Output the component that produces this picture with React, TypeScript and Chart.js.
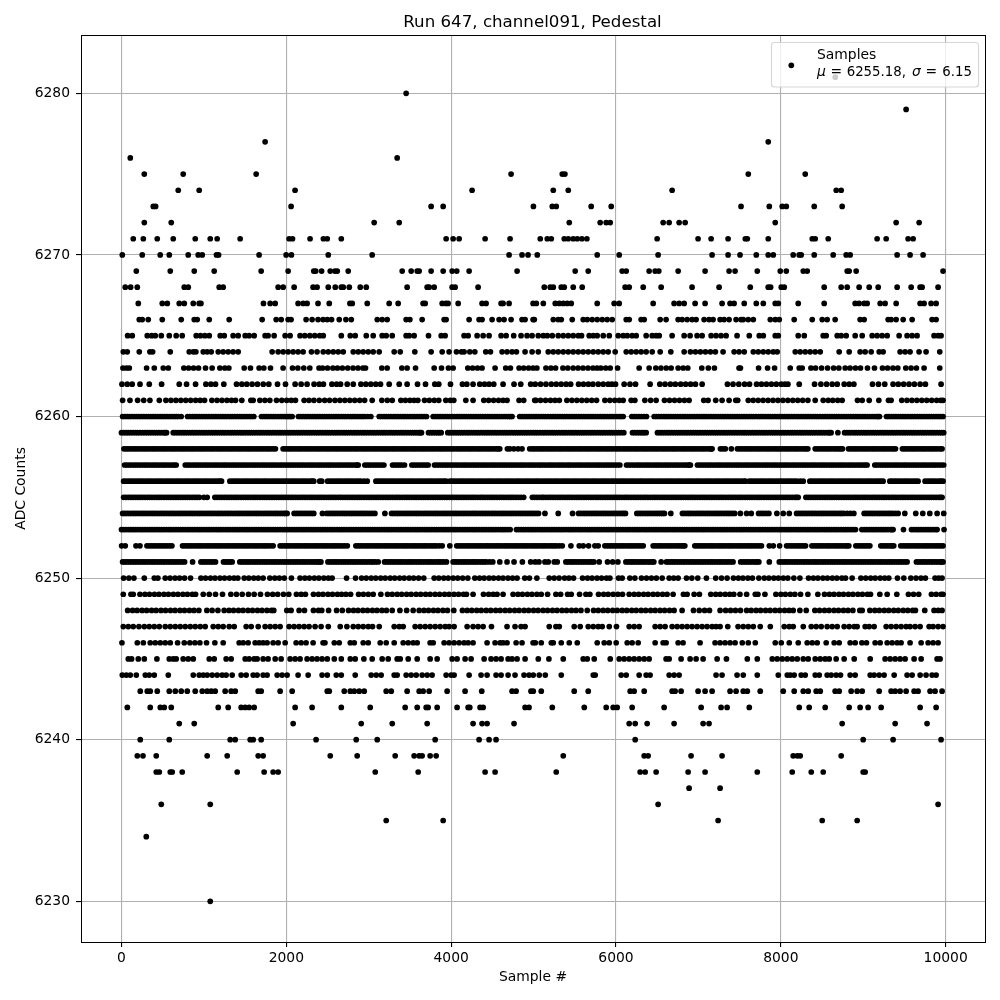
import React, { useEffect, useRef } from "react";
import { Chart, registerables } from "chart.js";

Chart.register(...registerables);

const titleText = "Run 647, channel091, Pedestal";
const xLabel = "Sample #";
const yLabel = "ADC Counts";
const xTicks = [0, 2000, 4000, 6000, 8000, 10000];
const yTicks = [6230, 6240, 6250, 6260, 6270, 6280];

const s6281 = [8660];
const s6280 = [3454];
const s6279 = [9520];
const s6277 = [1743, 7847];
const s6276 = [107, 3345];
const s6275 = [277, 749, 1634, 4727, 5348, 5380, 7605, 8296];
const s6274 = [689, 943, 2106, 4254, 5239, 5421, 6681, 8672, 8732];
const s6273 = [386, 414, 2058, 3757, 3903, 4998, 5227, 5275, 5699, 5942, 7517, 7860, 8017, 8066, 8405, 8744];
const s6272 = [277, 604, 3066, 3370, 5433, 5808, 5881, 5930, 6572, 6645, 6766, 6839, 7932, 9399, 9678];
const s6271 = [143, 265, 434, 628, 895, 1077, 1161, 1440, 2034, 2075, 2288, 2450, 2497, 2667, 3939, 4024, 4097, 4412, 4715, 5081, 5166, 5215, 5372, 5421, 5481, 5530, 5586, 5647, 6499, 6996, 7154, 7360, 7569, 7593, 7847, 8381, 8417, 8575, 9168, 9278, 9544, 9605];
const s6270 = [10, 252, 470, 580, 810, 931, 980, 1153, 1178, 1670, 1998, 2062, 2509, 3042, 4703, 4860, 4933, 5045, 5772, 6039, 6511, 7166, 7360, 7505, 7702, 7847, 7908, 8150, 8223, 8247, 8405, 8635, 8793, 8841, 9411, 9568, 9726];
const s6269 = [180, 592, 883, 1125, 1695, 2022, 2333, 2357, 2428, 2533, 2590, 2618, 2751, 3406, 3515, 3588, 3612, 3757, 3903, 4012, 4068, 4218, 4800, 5505, 5663, 6075, 6124, 6402, 6475, 6519, 6754, 7081, 7372, 7445, 7714, 7993, 8066, 8272, 8320, 8805, 8829, 8914, 9968];
const s6268 = [46, 111, 192, 762, 810, 1186, 1234, 1901, 1962, 2095, 2325, 2373, 2509, 2594, 2667, 2691, 2764, 2897, 2970, 3466, 3709, 3733, 3794, 4012, 4048, 4327, 5130, 5202, 5239, 5336, 5372, 5481, 5590, 6111, 6160, 6330, 6548, 6923, 7251, 7629, 7847, 7876, 8005, 8041, 8526, 8732, 8805, 8950, 9072, 9181, 9411, 9581, 9690, 9714, 9908];
const s6267 = [204, 495, 556, 701, 762, 871, 943, 964, 1723, 1804, 1865, 2143, 2204, 2252, 2385, 2521, 2772, 2800, 2982, 3248, 3357, 3660, 3685, 3891, 3935, 3963, 4085, 4375, 4424, 4606, 4630, 4703, 4994, 5033, 5118, 5263, 5312, 5360, 5408, 5457, 5772, 5978, 6039, 6451, 6705, 6766, 6827, 6960, 7081, 7287, 7384, 7433, 7556, 7702, 7787, 7932, 7969, 8211, 8526, 8902, 8950, 9011, 9047, 9205, 9265, 9399, 9690, 9738, 9823, 9884];
const s6266 = [216, 252, 325, 495, 725, 883, 919, 1065, 1307, 1707, 1877, 1938, 2022, 2058, 2240, 2313, 2385, 2446, 2497, 2549, 2642, 2723, 2788, 3103, 3163, 3224, 3454, 3499, 3648, 3915, 3939, 4218, 4339, 4375, 4497, 4582, 4642, 4727, 4860, 4897, 4994, 5009, 5239, 5299, 5336, 5469, 5602, 5651, 5711, 5772, 5833, 5893, 5954, 6124, 6160, 6305, 6342, 6536, 6608, 6754, 6802, 6863, 6923, 6972, 7069, 7129, 7178, 7263, 7311, 7372, 7457, 7517, 7544, 7605, 7666, 7872, 7932, 7981, 8162, 8381, 8502, 8562, 8659, 8962, 9011, 9302, 9338, 9399, 9484, 9593, 9835, 9884];
const s6265 = [75, 131, 313, 366, 410, 483, 580, 664, 737, 907, 959, 1012, 1065, 1198, 1247, 1355, 1416, 1501, 1549, 1610, 1743, 1779, 1852, 1986, 2046, 2167, 2224, 2285, 2345, 2405, 2448, 2667, 2776, 2836, 2970, 3054, 3163, 3212, 3285, 3454, 3491, 3551, 3725, 3879, 3927, 4157, 4206, 4315, 4388, 4460, 4606, 4667, 4759, 4848, 4921, 4982, 5057, 5118, 5166, 5227, 5299, 5360, 5421, 5481, 5542, 5582, 5675, 5724, 5772, 5845, 5918, 6027, 6087, 6136, 6196, 6245, 6366, 6439, 6487, 6524, 6681, 6827, 6899, 6984, 7045, 7154, 7214, 7275, 7336, 7469, 7617, 7738, 7787, 7932, 7969, 8211, 8284, 8514, 8550, 8684, 8732, 8793, 8902, 8987, 9108, 9168, 9229, 9290, 9435, 9532, 9593, 9653, 9859, 9908, 9944];
const s6264 = [22, 70, 216, 345, 378, 592, 822, 871, 903, 992, 1040, 1089, 1174, 1234, 1295, 1355, 1416, 1828, 1901, 1962, 2022, 2083, 2143, 2204, 2305, 2373, 2448, 2509, 2570, 2630, 2691, 2812, 2873, 2933, 2994, 3054, 3127, 3309, 3382, 3559, 3757, 3891, 3975, 4064, 4125, 4157, 4226, 4287, 4420, 4477, 4618, 4678, 4739, 4792, 4897, 4982, 5057, 5178, 5239, 5299, 5360, 5421, 5481, 5542, 5602, 5663, 5724, 5784, 5845, 5905, 5990, 6124, 6184, 6245, 6305, 6366, 6439, 6536, 6665, 6827, 6903, 6964, 7024, 7085, 7146, 7206, 7299, 7433, 7493, 7556, 7666, 7726, 7787, 7847, 7908, 7956, 8175, 8235, 8296, 8356, 8417, 8478, 8708, 8829, 8962, 9023, 9096, 9193, 9241, 9447, 9508, 9568, 9677, 9762, 9928];
const s6263 = [18, 60, 95, 305, 398, 507, 568, 757, 815, 875, 935, 1020, 1100, 1194, 1254, 1303, 1489, 1565, 1670, 1727, 1808, 1961, 2075, 2140, 2212, 2285, 2397, 2440, 2500, 2565, 2620, 2680, 2745, 2810, 2870, 2930, 2961, 3159, 3224, 3402, 3466, 3568, 3794, 3883, 3967, 4024, 4202, 4260, 4320, 4375, 4533, 4662, 4719, 4824, 4880, 4940, 4994, 5040, 5150, 5210, 5267, 5356, 5415, 5480, 5540, 5600, 5660, 5720, 5770, 5815, 5875, 5930, 6019, 6281, 6402, 6483, 6545, 6610, 6669, 6754, 6815, 6871, 7041, 7120, 7194, 7493, 7510, 7730, 7839, 7924, 8114, 8223, 8259, 8365, 8421, 8494, 8567, 8640, 8704, 8781, 8840, 8905, 8966, 9051, 9136, 9233, 9295, 9360, 9419, 9516, 9580, 9645, 9738, 9928];
const s6262 = [6, 70, 130, 225, 337, 487, 701, 790, 899, 1024, 1085, 1141, 1242, 1396, 1460, 1520, 1585, 1650, 1720, 1788, 1893, 1990, 2107, 2180, 2252, 2337, 2400, 2450, 2553, 2610, 2658, 2739, 2812, 2905, 2965, 3025, 3085, 3143, 3248, 3370, 3466, 3592, 3689, 3802, 3850, 3992, 4137, 4190, 4266, 4347, 4405, 4460, 4517, 4630, 4763, 4844, 4965, 5020, 5085, 5150, 5215, 5275, 5335, 5395, 5450, 5546, 5605, 5665, 5720, 5785, 5845, 5905, 5950, 5994, 6099, 6170, 6237, 6414, 6532, 6595, 6660, 6720, 6785, 6845, 6905, 6964, 7045, 7352, 7420, 7490, 7560, 7620, 7706, 7765, 7825, 7885, 7945, 8005, 8050, 8086, 8223, 8409, 8486, 8555, 8623, 8684, 8769, 8830, 8886, 9112, 9185, 9261, 9362, 9425, 9490, 9555, 9620, 9690, 9754, 9944];
const s6261 = [14, 103, 196, 270, 345, 459, 539, 600, 660, 720, 780, 840, 900, 955, 1008, 1097, 1160, 1220, 1280, 1335, 1384, 1460, 1570, 1598, 1679, 1740, 1800, 1881, 1945, 2005, 2060, 2111, 2216, 2275, 2335, 2400, 2465, 2525, 2590, 2650, 2710, 2770, 2830, 2890, 2950, 3042, 3159, 3225, 3285, 3390, 3445, 3500, 3550, 3596, 3677, 3735, 3795, 3850, 3935, 3990, 4032, 4178, 4266, 4396, 4455, 4515, 4575, 4630, 4678, 4824, 4880, 5014, 5029, 5085, 5145, 5205, 5260, 5312, 5404, 5465, 5525, 5585, 5645, 5705, 5764, 5865, 5925, 5985, 6040, 6087, 6184, 6229, 6350, 6420, 6487, 6588, 6650, 6710, 6770, 6830, 6887, 7065, 7117, 7210, 7287, 7372, 7453, 7477, 7605, 7665, 7725, 7785, 7845, 7905, 7965, 8025, 8085, 8145, 8205, 8265, 8328, 8417, 8514, 8575, 8630, 8690, 8744, 8930, 8987, 9072, 9189, 9306, 9338, 9467, 9530, 9590, 9650, 9710, 9770, 9830, 9890, 9940, 9968];
const s6260 = [14, 70, 125, 185, 240, 300, 355, 410, 470, 525, 585, 640, 690, 725, 802, 860, 915, 975, 1030, 1090, 1145, 1205, 1260, 1320, 1375, 1435, 1490, 1550, 1606, 1699, 1755, 1815, 1870, 1930, 1985, 2030, 2071, 2147, 2205, 2260, 2320, 2375, 2435, 2490, 2550, 2605, 2665, 2720, 2780, 2835, 2895, 2950, 3026, 3127, 3185, 3240, 3300, 3355, 3415, 3470, 3530, 3585, 3645, 3701, 3782, 3840, 3895, 3955, 4010, 4070, 4125, 4185, 4240, 4300, 4355, 4415, 4470, 4530, 4585, 4645, 4700, 4739, 4832, 4890, 4945, 5005, 5060, 5120, 5175, 5235, 5290, 5350, 5405, 5465, 5520, 5580, 5635, 5695, 5750, 5810, 5865, 5925, 5980, 6040, 6087, 6192, 6250, 6310, 6370, 6463, 6520, 6580, 6635, 6695, 6750, 6810, 6865, 6925, 6980, 7040, 7095, 7155, 7210, 7270, 7325, 7385, 7440, 7500, 7555, 7615, 7670, 7730, 7785, 7845, 7900, 7960, 8015, 8075, 8130, 8190, 8245, 8305, 8360, 8420, 8475, 8535, 8590, 8650, 8705, 8765, 8820, 8880, 8935, 8995, 9050, 9110, 9165, 9197, 9282, 9340, 9395, 9455, 9510, 9570, 9625, 9685, 9740, 9800, 9855, 9915, 9968];
const e6260 = [42, 97, 155, 212, 270, 327, 382, 440, 497, 555, 612, 665, 830, 887, 945, 1002, 1060, 1117, 1175, 1232, 1290, 1347, 1405, 1462, 1520, 1578, 1727, 1785, 1842, 1900, 1957, 2008, 2051, 2176, 2232, 2290, 2347, 2405, 2462, 2520, 2577, 2635, 2692, 2750, 2807, 2865, 2922, 2988, 3156, 3212, 3270, 3327, 3385, 3442, 3500, 3557, 3615, 3673, 3811, 3867, 3925, 3982, 4040, 4097, 4155, 4212, 4270, 4327, 4385, 4442, 4500, 4557, 4615, 4672, 4720, 4861, 4917, 4975, 5032, 5090, 5147, 5205, 5262, 5320, 5377, 5435, 5492, 5550, 5607, 5665, 5722, 5780, 5837, 5895, 5952, 6010, 6063, 6221, 6280, 6340, 6491, 6550, 6607, 6665, 6722, 6780, 6837, 6895, 6952, 7010, 7067, 7125, 7182, 7240, 7297, 7355, 7412, 7470, 7527, 7585, 7642, 7700, 7757, 7815, 7872, 7930, 7987, 8045, 8102, 8160, 8217, 8275, 8332, 8390, 8447, 8505, 8562, 8620, 8677, 8735, 8792, 8850, 8907, 8965, 9022, 9080, 9137, 9181, 9311, 9367, 9425, 9482, 9540, 9597, 9655, 9712, 9770, 9827, 9885, 9941];
const s6259 = [0, 55, 110, 170, 225, 285, 340, 400, 455, 515, 547, 628, 685, 745, 800, 860, 915, 975, 1030, 1090, 1145, 1205, 1260, 1320, 1375, 1435, 1490, 1550, 1605, 1665, 1720, 1780, 1835, 1895, 1950, 2010, 2065, 2125, 2180, 2240, 2295, 2355, 2410, 2470, 2525, 2585, 2640, 2700, 2755, 2815, 2870, 2930, 2985, 3045, 3100, 3160, 3215, 3275, 3330, 3390, 3445, 3505, 3560, 3610, 3640, 3725, 3780, 3835, 3879, 3959, 4015, 4075, 4130, 4190, 4245, 4305, 4360, 4420, 4475, 4535, 4590, 4650, 4705, 4765, 4820, 4880, 4935, 4995, 5050, 5110, 5165, 5225, 5280, 5340, 5395, 5455, 5510, 5570, 5625, 5685, 5740, 5800, 5855, 5915, 5970, 6030, 6095, 6200, 6260, 6315, 6366, 6503, 6560, 6620, 6675, 6735, 6790, 6850, 6905, 6965, 7020, 7080, 7135, 7195, 7250, 7310, 7365, 7425, 7480, 7540, 7595, 7655, 7710, 7770, 7825, 7885, 7940, 8000, 8055, 8115, 8170, 8230, 8285, 8345, 8400, 8460, 8515, 8575, 8610, 8692, 8773, 8830, 8890, 8945, 9005, 9060, 9120, 9175, 9235, 9290, 9350, 9405, 9465, 9520, 9580, 9635, 9695, 9750, 9810, 9865, 9925, 9976];
const e6259 = [27, 82, 140, 197, 255, 312, 370, 427, 485, 531, 656, 715, 772, 830, 887, 945, 1002, 1060, 1117, 1175, 1232, 1290, 1347, 1405, 1462, 1520, 1577, 1635, 1692, 1750, 1807, 1865, 1922, 1980, 2037, 2095, 2152, 2210, 2267, 2325, 2382, 2440, 2497, 2555, 2612, 2670, 2727, 2785, 2842, 2900, 2957, 3015, 3072, 3130, 3187, 3245, 3302, 3360, 3417, 3475, 3532, 3585, 3625, 3752, 3807, 3857, 3987, 4045, 4102, 4160, 4217, 4275, 4332, 4390, 4447, 4505, 4562, 4620, 4677, 4735, 4792, 4850, 4907, 4965, 5022, 5080, 5137, 5195, 5252, 5310, 5367, 5425, 5482, 5540, 5597, 5655, 5712, 5770, 5827, 5885, 5942, 6000, 6062, 6230, 6287, 6340, 6531, 6590, 6647, 6705, 6762, 6820, 6877, 6935, 6992, 7050, 7107, 7165, 7222, 7280, 7337, 7395, 7452, 7510, 7567, 7625, 7682, 7740, 7797, 7855, 7912, 7970, 8027, 8085, 8142, 8200, 8257, 8315, 8372, 8430, 8487, 8545, 8592, 8801, 8860, 8917, 8975, 9032, 9090, 9147, 9205, 9262, 9320, 9377, 9435, 9492, 9550, 9607, 9665, 9722, 9780, 9837, 9895, 9950];
const s6258 = [30, 85, 145, 200, 260, 315, 375, 430, 490, 545, 605, 660, 720, 775, 835, 890, 950, 1005, 1065, 1120, 1180, 1235, 1295, 1350, 1410, 1465, 1525, 1580, 1640, 1695, 1755, 1810, 1868, 1961, 2020, 2075, 2135, 2190, 2250, 2305, 2365, 2420, 2480, 2535, 2595, 2650, 2710, 2765, 2825, 2880, 2940, 2995, 3055, 3110, 3170, 3225, 3285, 3340, 3400, 3455, 3515, 3570, 3630, 3685, 3745, 3800, 3860, 3915, 3975, 4030, 4090, 4145, 4205, 4260, 4320, 4375, 4435, 4490, 4550, 4590, 4682, 4760, 4860, 4953, 5010, 5070, 5125, 5185, 5240, 5300, 5355, 5415, 5470, 5530, 5585, 5645, 5700, 5760, 5815, 5875, 5930, 5990, 6045, 6105, 6160, 6220, 6275, 6335, 6390, 6450, 6505, 6565, 6620, 6680, 6735, 6795, 6850, 6910, 6965, 7025, 7080, 7140, 7166, 7267, 7327, 7400, 7473, 7530, 7590, 7645, 7705, 7760, 7820, 7875, 7935, 7990, 8050, 8105, 8165, 8220, 8280, 8328, 8417, 8475, 8535, 8590, 8650, 8705, 8748, 8821, 8880, 8935, 8995, 9050, 9110, 9165, 9225, 9280, 9340, 9391, 9475, 9530, 9590, 9645, 9705, 9760, 9820, 9875, 9935, 9956];
const e6258 = [57, 115, 172, 230, 287, 345, 402, 460, 517, 575, 632, 690, 747, 805, 862, 920, 977, 1035, 1092, 1150, 1207, 1265, 1322, 1380, 1437, 1495, 1552, 1610, 1667, 1725, 1782, 1840, 1990, 2047, 2105, 2162, 2220, 2277, 2335, 2392, 2450, 2507, 2565, 2622, 2680, 2737, 2795, 2852, 2910, 2967, 3025, 3082, 3140, 3197, 3255, 3312, 3370, 3427, 3485, 3542, 3600, 3657, 3715, 3772, 3830, 3887, 3945, 4002, 4060, 4117, 4175, 4232, 4290, 4347, 4405, 4462, 4520, 4570, 4712, 4812, 4982, 5040, 5097, 5155, 5212, 5270, 5327, 5385, 5442, 5500, 5557, 5615, 5672, 5730, 5787, 5845, 5902, 5960, 6017, 6075, 6132, 6190, 6247, 6305, 6362, 6420, 6477, 6535, 6592, 6650, 6707, 6765, 6822, 6880, 6937, 6995, 7052, 7110, 7153, 7297, 7501, 7560, 7617, 7675, 7732, 7790, 7847, 7905, 7962, 8020, 8077, 8135, 8192, 8250, 8304, 8445, 8505, 8562, 8620, 8677, 8727, 8850, 8907, 8965, 9022, 9080, 9137, 9195, 9252, 9310, 9365, 9502, 9560, 9617, 9675, 9732, 9790, 9847, 9905];
const s6257 = [38, 95, 155, 210, 270, 325, 385, 440, 500, 555, 615, 664, 774, 830, 890, 945, 1005, 1060, 1120, 1175, 1235, 1290, 1350, 1405, 1465, 1520, 1580, 1635, 1695, 1750, 1810, 1865, 1925, 1980, 2040, 2095, 2155, 2210, 2270, 2325, 2385, 2440, 2500, 2555, 2615, 2670, 2730, 2785, 2845, 2873, 2953, 3010, 3070, 3125, 3184, 3289, 3345, 3400, 3434, 3523, 3580, 3640, 3695, 3721, 3798, 3855, 3915, 3970, 4030, 4085, 4145, 4200, 4260, 4315, 4375, 4430, 4490, 4545, 4605, 4660, 4720, 4775, 4835, 4890, 4950, 5005, 5065, 5120, 5180, 5235, 5295, 5350, 5410, 5465, 5525, 5580, 5640, 5695, 5755, 5810, 5870, 5925, 5985, 6047, 6128, 6185, 6245, 6300, 6360, 6415, 6475, 6530, 6590, 6645, 6705, 6760, 6820, 6875, 6903, 6988, 7045, 7105, 7160, 7220, 7275, 7335, 7390, 7450, 7505, 7565, 7620, 7680, 7735, 7795, 7850, 7910, 7965, 8025, 8080, 8140, 8195, 8255, 8310, 8370, 8425, 8485, 8540, 8600, 8655, 8715, 8770, 8830, 8885, 8945, 9000, 9047, 9140, 9195, 9255, 9310, 9370, 9425, 9485, 9540, 9600, 9655, 9715, 9770, 9830, 9885, 9945, 9976];
const e6257 = [66, 125, 182, 240, 297, 355, 412, 470, 527, 585, 640, 802, 860, 917, 975, 1032, 1090, 1147, 1205, 1262, 1320, 1377, 1435, 1492, 1550, 1607, 1665, 1722, 1780, 1837, 1895, 1952, 2010, 2067, 2125, 2182, 2240, 2297, 2355, 2412, 2470, 2527, 2585, 2642, 2700, 2757, 2815, 2860, 2981, 3040, 3097, 3155, 3317, 3372, 3551, 3610, 3667, 3826, 3885, 3942, 4000, 4057, 4115, 4172, 4230, 4287, 4345, 4402, 4460, 4517, 4575, 4632, 4690, 4747, 4805, 4862, 4920, 4977, 5035, 5092, 5150, 5207, 5265, 5322, 5380, 5437, 5495, 5552, 5610, 5667, 5725, 5782, 5840, 5897, 5955, 6016, 6156, 6215, 6272, 6330, 6387, 6445, 6502, 6560, 6617, 6675, 6732, 6790, 6847, 6889, 7016, 7075, 7132, 7190, 7247, 7305, 7362, 7420, 7477, 7535, 7592, 7650, 7707, 7765, 7822, 7880, 7937, 7995, 8052, 8110, 8167, 8225, 8282, 8340, 8397, 8455, 8512, 8570, 8627, 8685, 8742, 8800, 8857, 8915, 8972, 9025, 9167, 9225, 9282, 9340, 9397, 9455, 9512, 9570, 9627, 9685, 9742, 9800, 9857, 9915];
const s6256 = [26, 85, 140, 200, 255, 315, 370, 430, 485, 545, 600, 660, 715, 775, 830, 890, 945, 1005, 1060, 1120, 1175, 1214, 1315, 1375, 1430, 1490, 1545, 1605, 1660, 1720, 1775, 1835, 1890, 1950, 2005, 2065, 2120, 2180, 2235, 2295, 2333, 2405, 2430, 2501, 2560, 2620, 2675, 2735, 2790, 2850, 2905, 2982, 3087, 3145, 3200, 3260, 3315, 3375, 3430, 3490, 3545, 3605, 3660, 3720, 3775, 3835, 3890, 3939, 3985, 4040, 4100, 4155, 4215, 4270, 4330, 4385, 4445, 4500, 4560, 4615, 4675, 4730, 4790, 4845, 4905, 4960, 5020, 5075, 5135, 5190, 5250, 5305, 5365, 5420, 5480, 5535, 5595, 5650, 5710, 5765, 5825, 5880, 5940, 5995, 6055, 6110, 6170, 6225, 6285, 6340, 6400, 6455, 6515, 6570, 6630, 6685, 6745, 6800, 6860, 6915, 6975, 7030, 7090, 7145, 7205, 7260, 7320, 7375, 7435, 7490, 7550, 7570, 7617, 7675, 7735, 7790, 7850, 7905, 7965, 8020, 8080, 8135, 8195, 8272, 8352, 8410, 8470, 8525, 8585, 8640, 8700, 8755, 8815, 8870, 8930, 8985, 9045, 9100, 9160, 9215, 9241, 9322, 9380, 9435, 9495, 9550, 9610, 9665, 9750, 9810, 9865, 9925, 9968];
const e6256 = [55, 112, 170, 227, 285, 342, 400, 457, 515, 572, 630, 687, 745, 802, 860, 917, 975, 1032, 1090, 1147, 1195, 1345, 1402, 1460, 1517, 1575, 1632, 1690, 1747, 1805, 1862, 1920, 1977, 2035, 2092, 2150, 2207, 2265, 2315, 2530, 2590, 2647, 2705, 2762, 2820, 2877, 2945, 3115, 3172, 3230, 3287, 3345, 3402, 3460, 3517, 3575, 3632, 3690, 3747, 3805, 3862, 3915, 4012, 4070, 4127, 4185, 4242, 4300, 4357, 4415, 4472, 4530, 4587, 4645, 4702, 4760, 4817, 4875, 4932, 4990, 5047, 5105, 5162, 5220, 5277, 5335, 5392, 5450, 5507, 5565, 5622, 5680, 5737, 5795, 5852, 5910, 5967, 6025, 6082, 6140, 6197, 6255, 6312, 6370, 6427, 6485, 6542, 6600, 6657, 6715, 6772, 6830, 6887, 6945, 7002, 7060, 7117, 7175, 7232, 7290, 7347, 7405, 7462, 7520, 7645, 7705, 7762, 7820, 7877, 7935, 7992, 8050, 8107, 8165, 8235, 8380, 8440, 8497, 8555, 8612, 8670, 8727, 8785, 8842, 8900, 8957, 9015, 9072, 9130, 9187, 9350, 9407, 9465, 9522, 9580, 9637, 9780, 9837, 9895, 9945];
const s6255 = [26, 85, 140, 200, 255, 315, 370, 430, 485, 545, 600, 660, 715, 775, 830, 890, 945, 1040, 1133, 1190, 1250, 1305, 1365, 1420, 1480, 1535, 1595, 1650, 1710, 1765, 1825, 1880, 1940, 1995, 2055, 2110, 2170, 2225, 2285, 2340, 2400, 2455, 2515, 2570, 2630, 2685, 2745, 2800, 2860, 2915, 2975, 3030, 3090, 3145, 3205, 3260, 3320, 3375, 3435, 3490, 3550, 3605, 3665, 3720, 3780, 3835, 3895, 3950, 4010, 4065, 4125, 4180, 4240, 4295, 4355, 4410, 4470, 4525, 4585, 4640, 4700, 4755, 4815, 4880, 4985, 5040, 5100, 5120, 5180, 5235, 5295, 5350, 5410, 5465, 5525, 5580, 5640, 5695, 5755, 5810, 5870, 5925, 5985, 6040, 6100, 6155, 6215, 6270, 6330, 6385, 6445, 6500, 6560, 6615, 6675, 6730, 6790, 6845, 6905, 6960, 7020, 7075, 7135, 7190, 7250, 7305, 7365, 7420, 7480, 7535, 7595, 7650, 7710, 7765, 7825, 7880, 7940, 7995, 8055, 8110, 8170, 8211, 8304, 8360, 8420, 8475, 8535, 8590, 8650, 8705, 8765, 8820, 8880, 8935, 8995, 9050, 9110, 9165, 9225, 9280, 9340, 9395, 9455, 9510, 9570, 9625, 9685, 9740, 9800, 9855, 9915, 9956];
const e6255 = [55, 112, 170, 227, 285, 342, 400, 457, 515, 572, 630, 687, 745, 802, 860, 917, 1000, 1160, 1220, 1277, 1335, 1392, 1450, 1507, 1565, 1622, 1680, 1737, 1795, 1852, 1910, 1967, 2025, 2082, 2140, 2197, 2255, 2312, 2370, 2427, 2485, 2542, 2600, 2657, 2715, 2772, 2830, 2887, 2945, 3002, 3060, 3117, 3175, 3232, 3290, 3347, 3405, 3462, 3520, 3577, 3635, 3692, 3750, 3807, 3865, 3922, 3980, 4037, 4095, 4152, 4210, 4267, 4325, 4382, 4440, 4497, 4555, 4612, 4670, 4727, 4785, 4847, 5012, 5070, 5150, 5207, 5265, 5322, 5380, 5437, 5495, 5552, 5610, 5667, 5725, 5782, 5840, 5897, 5955, 6012, 6070, 6127, 6185, 6242, 6300, 6357, 6415, 6472, 6530, 6587, 6645, 6702, 6760, 6817, 6875, 6932, 6990, 7047, 7105, 7162, 7220, 7277, 7335, 7392, 7450, 7507, 7565, 7622, 7680, 7737, 7795, 7852, 7910, 7967, 8025, 8082, 8140, 8190, 8332, 8390, 8447, 8505, 8562, 8620, 8677, 8735, 8792, 8850, 8907, 8965, 9022, 9080, 9137, 9195, 9252, 9310, 9367, 9425, 9482, 9540, 9597, 9655, 9712, 9770, 9827, 9885, 9935];
const s6254 = [14, 70, 130, 185, 245, 300, 360, 415, 475, 530, 590, 645, 705, 760, 820, 875, 935, 990, 1050, 1105, 1165, 1220, 1280, 1335, 1395, 1450, 1510, 1565, 1625, 1680, 1740, 1795, 1855, 1910, 1970, 2010, 2095, 2155, 2215, 2275, 2333, 2438, 2490, 2550, 2605, 2665, 2720, 2780, 2835, 2895, 2950, 3010, 3075, 3196, 3277, 3335, 3390, 3450, 3505, 3565, 3620, 3680, 3735, 3795, 3850, 3910, 3965, 4025, 4080, 4140, 4195, 4255, 4310, 4370, 4425, 4485, 4540, 4600, 4655, 4715, 4770, 4830, 4885, 4945, 5000, 5060, 5138, 5299, 5473, 5546, 5605, 5660, 5720, 5775, 5835, 5890, 5950, 6005, 6065, 6115, 6253, 6310, 6370, 6425, 6485, 6540, 6588, 6665, 6806, 6865, 6920, 6980, 7035, 7095, 7150, 7210, 7265, 7325, 7380, 7440, 7509, 7585, 7641, 7730, 7790, 7855, 7952, 8029, 8102, 8191, 8250, 8305, 8365, 8420, 8480, 8535, 8595, 8650, 8710, 8765, 8845, 8886, 9011, 9070, 9125, 9185, 9240, 9300, 9355, 9423, 9504, 9637, 9722, 9807, 9896, 9976];
const e6254 = [42, 100, 157, 215, 272, 330, 387, 445, 502, 560, 617, 675, 732, 790, 847, 905, 962, 1020, 1077, 1135, 1192, 1250, 1307, 1365, 1422, 1480, 1537, 1595, 1652, 1710, 1767, 1825, 1882, 1940, 1990, 2125, 2185, 2245, 2304, 2520, 2577, 2635, 2692, 2750, 2807, 2865, 2922, 2980, 3042, 3305, 3362, 3420, 3477, 3535, 3592, 3650, 3707, 3765, 3822, 3880, 3937, 3995, 4052, 4110, 4167, 4225, 4282, 4340, 4397, 4455, 4512, 4570, 4627, 4685, 4742, 4800, 4857, 4915, 4972, 5030, 5575, 5632, 5690, 5747, 5805, 5862, 5920, 5977, 6035, 6090, 6281, 6340, 6397, 6455, 6512, 6565, 6835, 6892, 6950, 7007, 7065, 7122, 7180, 7237, 7295, 7352, 7410, 7760, 7822, 8220, 8277, 8335, 8392, 8450, 8507, 8565, 8622, 8680, 8737, 8805, 9040, 9097, 9155, 9212, 9270, 9327, 9390];
const s6253 = [0, 55, 115, 170, 230, 285, 345, 400, 460, 515, 575, 630, 690, 745, 805, 860, 920, 975, 1035, 1090, 1150, 1205, 1265, 1320, 1380, 1435, 1495, 1550, 1610, 1665, 1725, 1780, 1840, 1895, 1955, 2010, 2070, 2125, 2185, 2240, 2300, 2355, 2415, 2470, 2530, 2585, 2645, 2700, 2760, 2815, 2875, 2930, 2990, 3045, 3105, 3160, 3220, 3275, 3335, 3390, 3450, 3505, 3565, 3620, 3680, 3735, 3795, 3850, 3910, 3965, 4025, 4080, 4140, 4195, 4255, 4310, 4370, 4425, 4485, 4540, 4600, 4655, 4716, 4792, 4850, 4905, 4965, 5020, 5080, 5135, 5195, 5250, 5310, 5365, 5425, 5480, 5540, 5595, 5655, 5710, 5770, 5825, 5885, 5940, 6000, 6055, 6115, 6170, 6230, 6285, 6345, 6400, 6460, 6515, 6575, 6630, 6690, 6745, 6805, 6860, 6920, 6975, 7035, 7090, 7150, 7205, 7265, 7320, 7380, 7435, 7495, 7550, 7610, 7665, 7725, 7780, 7840, 7895, 7955, 8010, 8070, 8125, 8185, 8240, 8300, 8355, 8415, 8470, 8530, 8585, 8645, 8700, 8760, 8815, 8875, 8906, 8983, 9040, 9100, 9155, 9215, 9270, 9330, 9362, 9488, 9585, 9645, 9700, 9760, 9815, 9875, 9896, 9980];
const e6253 = [27, 85, 142, 200, 257, 315, 372, 430, 487, 545, 602, 660, 717, 775, 832, 890, 947, 1005, 1062, 1120, 1177, 1235, 1292, 1350, 1407, 1465, 1522, 1580, 1637, 1695, 1752, 1810, 1867, 1925, 1982, 2040, 2097, 2155, 2212, 2270, 2327, 2385, 2442, 2500, 2557, 2615, 2672, 2730, 2787, 2845, 2902, 2960, 3017, 3075, 3132, 3190, 3247, 3305, 3362, 3420, 3477, 3535, 3592, 3650, 3707, 3765, 3822, 3880, 3937, 3995, 4052, 4110, 4167, 4225, 4282, 4340, 4397, 4455, 4512, 4570, 4627, 4685, 4820, 4877, 4935, 4992, 5050, 5107, 5165, 5222, 5280, 5337, 5395, 5452, 5510, 5567, 5625, 5682, 5740, 5797, 5855, 5912, 5970, 6027, 6085, 6142, 6200, 6257, 6315, 6372, 6430, 6487, 6545, 6602, 6660, 6717, 6775, 6832, 6890, 6947, 7005, 7062, 7120, 7177, 7235, 7292, 7350, 7407, 7465, 7522, 7580, 7637, 7695, 7752, 7810, 7867, 7925, 7982, 8040, 8097, 8155, 8212, 8270, 8327, 8385, 8442, 8500, 8557, 8615, 8672, 8730, 8787, 8845, 9012, 9070, 9127, 9185, 9242, 9300, 9345, 9615, 9672, 9730, 9787, 9845];
const s6252 = [2, 46, 176, 224, 309, 370, 430, 490, 550, 612, 741, 800, 855, 915, 970, 1030, 1085, 1145, 1200, 1260, 1315, 1375, 1430, 1490, 1545, 1605, 1660, 1720, 1775, 1840, 1925, 1985, 2040, 2100, 2155, 2215, 2270, 2330, 2385, 2445, 2500, 2560, 2615, 2675, 2740, 2844, 2900, 2960, 3015, 3075, 3130, 3190, 3245, 3305, 3360, 3420, 3475, 3535, 3590, 3650, 3705, 3765, 3820, 3891, 3984, 4068, 4125, 4185, 4240, 4300, 4355, 4415, 4470, 4530, 4585, 4645, 4700, 4760, 4815, 4875, 4930, 4990, 5045, 5105, 5160, 5220, 5275, 5348, 5453, 5554, 5602, 5667, 5744, 5784, 5865, 5925, 5980, 6040, 6095, 6155, 6210, 6270, 6330, 6451, 6510, 6565, 6625, 6680, 6740, 6795, 6835, 6956, 7015, 7070, 7130, 7185, 7245, 7300, 7360, 7415, 7475, 7530, 7590, 7645, 7705, 7765, 7860, 7908, 7985, 8070, 8130, 8190, 8245, 8300, 8377, 8435, 8490, 8550, 8605, 8665, 8720, 8780, 8825, 8910, 8970, 9025, 9080, 9213, 9270, 9325, 9370, 9455, 9515, 9570, 9630, 9685, 9745, 9800, 9860, 9915, 9968];
const e6252 = [340, 400, 460, 520, 581, 770, 827, 885, 942, 1000, 1057, 1115, 1172, 1230, 1287, 1345, 1402, 1460, 1517, 1575, 1632, 1690, 1747, 1807, 1955, 2012, 2070, 2127, 2185, 2242, 2300, 2357, 2415, 2472, 2530, 2587, 2645, 2707, 2872, 2930, 2987, 3045, 3102, 3160, 3217, 3275, 3332, 3390, 3447, 3505, 3562, 3620, 3677, 3735, 3792, 3855, 4096, 4155, 4212, 4270, 4327, 4385, 4442, 4500, 4557, 4615, 4672, 4730, 4787, 4845, 4902, 4960, 5017, 5075, 5132, 5190, 5247, 5311, 5895, 5952, 6010, 6067, 6125, 6182, 6240, 6300, 6480, 6537, 6595, 6652, 6710, 6767, 6815, 6985, 7042, 7100, 7157, 7215, 7272, 7330, 7387, 7445, 7502, 7560, 7617, 7675, 7735, 8100, 8160, 8217, 8272, 8406, 8462, 8520, 8577, 8635, 8692, 8750, 8802, 8940, 8997, 9052, 9241, 9297, 9347, 9485, 9542, 9600, 9657, 9715, 9772, 9830, 9887, 9942];
const s6251 = [14, 70, 130, 185, 245, 300, 360, 415, 475, 530, 590, 645, 705, 766, 863, 964, 1020, 1080, 1141, 1238, 1290, 1343, 1436, 1495, 1550, 1610, 1665, 1725, 1780, 1840, 1895, 1955, 2010, 2070, 2125, 2185, 2240, 2300, 2355, 2405, 2420, 2505, 2565, 2620, 2680, 2735, 2795, 2850, 2910, 2965, 3025, 3080, 3115, 3192, 3250, 3305, 3365, 3420, 3480, 3535, 3595, 3650, 3710, 3765, 3825, 3880, 3943, 4024, 4080, 4140, 4195, 4255, 4310, 4370, 4425, 4505, 4590, 4678, 4763, 4864, 4965, 5020, 5065, 5138, 5178, 5251, 5287, 5392, 5450, 5505, 5565, 5620, 5680, 5732, 5796, 5897, 5960, 6023, 6120, 6180, 6235, 6295, 6350, 6410, 6459, 6548, 6612, 6670, 6725, 6785, 6840, 6900, 6955, 7015, 7070, 7130, 7185, 7245, 7300, 7360, 7420, 7513, 7570, 7625, 7685, 7733, 7860, 7981, 8040, 8095, 8155, 8210, 8270, 8325, 8385, 8440, 8500, 8555, 8615, 8670, 8730, 8785, 8845, 8900, 8960, 9015, 9075, 9130, 9190, 9245, 9305, 9360, 9420, 9475, 9532, 9645, 9705, 9760, 9820, 9875, 9935, 9968];
const e6251 = [42, 100, 157, 215, 272, 330, 387, 445, 502, 560, 617, 675, 735, 992, 1050, 1110, 1264, 1316, 1465, 1522, 1580, 1637, 1695, 1752, 1810, 1867, 1925, 1982, 2040, 2097, 2155, 2212, 2270, 2327, 2380, 2535, 2592, 2650, 2707, 2765, 2822, 2880, 2937, 2995, 3052, 3220, 3277, 3335, 3392, 3450, 3507, 3565, 3622, 3680, 3737, 3795, 3852, 3910, 4052, 4110, 4167, 4225, 4282, 4340, 4397, 4465, 5420, 5477, 5535, 5592, 5650, 5705, 6150, 6207, 6265, 6322, 6380, 6435, 6640, 6697, 6755, 6812, 6870, 6927, 6985, 7042, 7100, 7157, 7215, 7272, 7330, 7390, 7541, 7597, 7655, 7710, 8010, 8067, 8125, 8182, 8240, 8297, 8355, 8412, 8470, 8527, 8585, 8642, 8700, 8757, 8815, 8872, 8930, 8987, 9045, 9102, 9160, 9217, 9275, 9332, 9390, 9447, 9505, 9675, 9732, 9790, 9847, 9905, 9950];
const s6250 = [26, 90, 151, 277, 398, 442, 531, 590, 650, 705, 765, 838, 964, 1020, 1080, 1135, 1195, 1250, 1310, 1365, 1412, 1489, 1545, 1605, 1660, 1719, 1800, 1860, 1915, 1975, 2062, 2167, 2225, 2280, 2340, 2395, 2455, 2510, 2556, 2731, 2840, 2913, 2970, 3030, 3085, 3145, 3200, 3260, 3315, 3375, 3430, 3490, 3545, 3605, 3668, 3794, 3850, 3910, 3965, 4025, 4080, 4140, 4202, 4287, 4345, 4400, 4460, 4515, 4575, 4630, 4690, 4745, 4800, 4893, 4950, 5040, 5190, 5250, 5310, 5376, 5429, 5485, 5594, 5655, 5710, 5770, 5825, 5885, 5926, 6031, 6075, 6168, 6229, 6309, 6370, 6430, 6490, 6560, 6645, 6700, 6754, 6855, 6920, 6992, 7097, 7210, 7280, 7348, 7425, 7485, 7540, 7600, 7655, 7733, 7799, 7855, 7915, 7970, 8030, 8085, 8158, 8231, 8336, 8395, 8450, 8510, 8565, 8625, 8680, 8740, 8785, 8865, 8971, 9030, 9090, 9145, 9205, 9260, 9310, 9415, 9492, 9577, 9640, 9700, 9754, 9871, 9915, 9956];
const s6249 = [22, 115, 143, 224, 285, 340, 400, 455, 515, 570, 630, 685, 745, 800, 860, 899, 992, 1065, 1141, 1226, 1327, 1395, 1465, 1541, 1610, 1687, 1771, 1835, 1895, 1965, 2030, 2123, 2180, 2232, 2329, 2390, 2445, 2505, 2560, 2620, 2671, 2723, 2780, 2877, 2935, 2995, 3054, 3147, 3228, 3285, 3345, 3400, 3460, 3515, 3575, 3630, 3690, 3745, 3805, 3860, 3920, 3975, 4035, 4090, 4150, 4186, 4266, 4392, 4455, 4510, 4557, 4630, 4751, 4810, 4865, 4925, 4980, 5040, 5093, 5170, 5271, 5328, 5413, 5457, 5558, 5635, 5683, 5788, 5850, 5905, 5965, 6023, 6079, 6160, 6220, 6275, 6335, 6390, 6450, 6505, 6565, 6620, 6693, 6818, 6863, 6948, 7012, 7150, 7210, 7265, 7325, 7380, 7429, 7504, 7585, 7690, 7722, 7807, 7940, 8000, 8055, 8115, 8170, 8239, 8328, 8449, 8530, 8590, 8645, 8705, 8760, 8820, 8875, 8935, 8990, 9050, 9088, 9201, 9290, 9407, 9548, 9610, 9673, 9827, 9885, 9945, 9968];
const s6248 = [75, 135, 190, 250, 305, 365, 420, 480, 535, 595, 650, 710, 765, 825, 880, 939, 1036, 1100, 1170, 1246, 1305, 1360, 1420, 1475, 1535, 1590, 1650, 1705, 1765, 1820, 1848, 2006, 2058, 2155, 2220, 2329, 2390, 2430, 2513, 2610, 2679, 2755, 2815, 2870, 2930, 2985, 3045, 3100, 3160, 3215, 3285, 3378, 3460, 3539, 3612, 3670, 3725, 3785, 3840, 3900, 3955, 4032, 4137, 4195, 4250, 4310, 4365, 4425, 4480, 4540, 4595, 4655, 4710, 4770, 4825, 4885, 4940, 5000, 5055, 5115, 5170, 5230, 5285, 5345, 5400, 5460, 5515, 5575, 5651, 5728, 5785, 5845, 5900, 5960, 6015, 6075, 6130, 6190, 6245, 6305, 6360, 6420, 6475, 6535, 6590, 6650, 6705, 6802, 6940, 7010, 7075, 7134, 7263, 7330, 7390, 7449, 7510, 7585, 7640, 7700, 7755, 7815, 7870, 7930, 7985, 8045, 8100, 8150, 8231, 8308, 8413, 8470, 8530, 8585, 8645, 8700, 8760, 8815, 8874, 8958, 8987, 9080, 9140, 9195, 9255, 9310, 9370, 9425, 9485, 9540, 9600, 9633, 9746, 9859, 9910, 9956];
const s6247 = [22, 83, 143, 212, 277, 337, 398, 459, 531, 592, 653, 713, 774, 835, 895, 956, 1016, 1113, 1174, 1234, 1307, 1368, 1513, 1574, 1659, 1743, 1804, 1865, 1925, 2034, 2095, 2155, 2216, 2276, 2349, 2422, 2509, 2654, 2735, 2812, 2873, 2933, 2994, 3046, 3127, 3309, 3370, 3418, 3563, 3624, 3685, 3745, 3806, 3866, 3927, 3975, 4036, 4194, 4266, 4327, 4388, 4489, 4678, 4775, 4848, 4897, 5190, 5271, 5312, 5493, 5566, 5663, 5724, 5784, 5833, 5918, 6006, 6160, 6220, 6281, 6475, 6536, 6596, 6681, 6742, 6802, 6863, 6923, 6984, 7045, 7105, 7166, 7214, 7263, 7356, 7481, 7544, 7605, 7666, 7750, 7872, 8041, 8102, 8150, 8272, 8369, 8429, 8490, 8562, 8623, 8684, 8768, 8829, 8890, 8926, 9023, 9072, 9132, 9278, 9338, 9399, 9459, 9520, 9568, 9629, 9690, 9799, 9847, 9908, 9968];
const s6246 = [6, 192, 265, 349, 410, 471, 531, 592, 681, 762, 830, 891, 951, 1032, 1133, 1234, 1428, 1477, 1537, 1622, 1671, 1719, 1767, 1840, 1901, 1986, 2119, 2180, 2240, 2325, 2446, 2469, 2582, 2642, 2776, 2824, 2933, 2994, 3139, 3212, 3309, 3418, 3479, 3539, 3588, 3745, 3782, 3915, 3975, 4036, 4097, 4157, 4206, 4266, 4436, 4533, 4594, 4630, 4678, 4788, 4860, 4994, 5021, 5093, 5215, 5239, 5336, 5433, 5530, 5772, 5857, 5918, 6002, 6136, 6196, 6269, 6475, 6572, 6608, 6754, 6814, 7020, 7202, 7263, 7323, 7384, 7445, 7532, 7605, 7690, 7932, 8005, 8102, 8211, 8320, 8381, 8441, 8550, 8647, 8708, 8841, 8902, 8983, 9039, 9144, 9205, 9290, 9350, 9411, 9459, 9568, 9702, 9787, 9847, 9908];
const s6245 = [83, 123, 204, 277, 430, 580, 628, 664, 749, 810, 871, 1065, 1125, 1270, 1331, 1501, 1549, 1610, 1646, 1719, 1779, 1865, 1937, 2046, 2107, 2167, 2252, 2313, 2373, 2434, 2497, 2582, 2667, 2776, 2836, 2941, 3042, 3163, 3236, 3345, 3382, 3479, 3588, 3745, 3830, 4012, 4072, 4169, 4242, 4400, 4484, 4545, 4606, 4691, 4739, 4800, 4897, 5057, 5186, 5360, 5602, 5651, 5736, 5930, 6039, 6099, 6160, 6220, 6281, 6342, 6402, 6608, 6645, 6790, 6899, 6972, 7057, 7227, 7340, 7593, 7714, 7896, 7956, 8017, 8078, 8138, 8199, 8272, 8332, 8417, 8478, 8538, 8587, 8671, 8768, 8890, 9084, 9265, 9326, 9387, 9447, 9508, 9617, 9702, 9896, 9932];
const s6244 = [10, 59, 107, 180, 289, 337, 398, 568, 871, 943, 992, 1040, 1101, 1161, 1222, 1270, 1343, 1452, 1513, 1598, 1646, 1719, 1767, 1889, 1949, 2010, 2143, 2265, 2434, 2497, 2606, 2667, 2836, 3030, 3091, 3151, 3309, 3345, 3454, 3515, 3576, 3648, 3709, 3769, 3939, 4000, 4036, 4218, 4363, 4436, 4545, 4606, 4691, 4775, 4884, 4945, 4996, 5069, 5142, 5336, 5724, 5748, 6063, 6124, 6281, 6366, 6414, 6645, 6705, 6766, 7214, 7287, 7469, 7544, 7714, 7969, 8078, 8114, 8162, 8247, 8296, 8417, 8466, 8562, 8611, 8671, 8724, 8841, 8902, 9084, 9132, 9193, 9253, 9375, 9532, 9593, 9690, 9762, 9835, 9884];
const s6243 = [228, 313, 349, 434, 580, 653, 725, 798, 895, 980, 1040, 1089, 1137, 1258, 1331, 1380, 1659, 1695, 1925, 2071, 2497, 2521, 2703, 2776, 2824, 2885, 2945, 3212, 3273, 3466, 3612, 3660, 3733, 3951, 4169, 4371, 4739, 4788, 4969, 4996, 5093, 5493, 5663, 6172, 6220, 6342, 6681, 6717, 6790, 6996, 7081, 7166, 7384, 7457, 7544, 7593, 7750, 8029, 8162, 8272, 8332, 8429, 8478, 8659, 8708, 8853, 8926, 8987, 9193, 9338, 9387, 9447, 9520, 9617, 9665, 9811, 9871, 9956];
const s6242 = [71, 349, 471, 519, 604, 1174, 1295, 1452, 1501, 1549, 1610, 2107, 2313, 2667, 3018, 3442, 3588, 3697, 3721, 3830, 4072, 4206, 4226, 4351, 4388, 4897, 4945, 5227, 5615, 5881, 5966, 6014, 6196, 6584, 7033, 7275, 7348, 7617, 8223, 8344, 8538, 8829, 8962, 9059, 9217, 9690, 9884];
const s6241 = [701, 883, 2083, 2909, 3285, 3709, 4266, 4375, 4436, 4763, 6160, 6233, 6378, 6705, 7057, 7129, 8744, 9387, 9774];
const s6240 = [228, 580, 1319, 1380, 1562, 1598, 1695, 2361, 2848, 3103, 3806, 4339, 4460, 4545, 6233, 8999, 9362, 9944];
const s6239 = [192, 261, 422, 1040, 1283, 1659, 1719, 2533, 2860, 3321, 3551, 3612, 3648, 3745, 3818, 5360, 6342, 6390, 6911, 7287, 8150, 8199, 8235, 8732];
const s6238 = [422, 459, 592, 616, 737, 1404, 1731, 1840, 1901, 3079, 3600, 4412, 4533, 5275, 6293, 6354, 6487, 6875, 7081, 7714, 8138, 8369, 8514, 8999, 9023];
const s6237 = [6887, 7263];
const s6236 = [483, 1077, 6511, 9908];
const s6235 = [3212, 3903, 7239, 8502, 8926];
const s6234 = [301];
const s6230 = [1077];

const levels = [6281, 6280, 6279, 6277, 6276, 6275, 6274, 6273, 6272, 6271, 6270, 6269, 6268, 6267, 6266, 6265, 6264, 6263, 6262, 6261, 6260, 6260, 6259, 6259, 6258, 6258, 6257, 6257, 6256, 6256, 6255, 6255, 6254, 6254, 6253, 6253, 6252, 6252, 6251, 6251, 6250, 6249, 6248, 6247, 6246, 6245, 6244, 6243, 6242, 6241, 6240, 6239, 6238, 6237, 6236, 6235, 6234, 6230];
const rows = [s6281, s6280, s6279, s6277, s6276, s6275, s6274, s6273, s6272, s6271, s6270, s6269, s6268, s6267, s6266, s6265, s6264, s6263, s6262, s6261, s6260, e6260, s6259, e6259, s6258, e6258, s6257, e6257, s6256, e6256, s6255, e6255, s6254, e6254, s6253, e6253, s6252, e6252, s6251, e6251, s6250, s6249, s6248, s6247, s6246, s6245, s6244, s6243, s6242, s6241, s6240, s6239, s6238, s6237, s6236, s6235, s6234, s6230];

const FONT = '"DejaVu Sans"';

const framePlugin = {
  id: "frameAndLegend",
  afterDatasetsDraw(chart: any) {
    const { ctx } = chart;
    ctx.save();
    ctx.strokeStyle = "#000";
    ctx.lineWidth = 1;
    ctx.strokeRect(81.5, 35.5, 904, 907);

    ctx.fillStyle = "#000";
    ctx.textBaseline = "alphabetic";
    ctx.textAlign = "center";
    ctx.font = `16.67px ${FONT}`;
    ctx.fillText(titleText, 532.5, 27);

    const bx = 771.5, by = 42.5, bw = 207, bh = 44.5, r = 3;
    ctx.beginPath();
    ctx.roundRect(bx, by, bw, bh, r);
    ctx.fillStyle = "rgba(255,255,255,0.8)";
    ctx.fill();
    ctx.strokeStyle = "rgba(204,204,204,0.8)";
    ctx.lineWidth = 1.1;
    ctx.stroke();

    ctx.fillStyle = "#000";
    ctx.beginPath();
    ctx.arc(791.3, 65.3, 2.85, 0, Math.PI * 2);
    ctx.fill();

    ctx.textAlign = "left";
    ctx.font = `13.89px ${FONT}`;
    ctx.fillText("Samples", 817, 59);
    const parts: [string, boolean, number, number][] = [
      ["μ", true, 817, 13.89],
      ["=", false, 830.5, 13.89],
      ["6255.18,", false, 846.7, 13.3],
      ["σ", true, 912, 13.89],
      ["=", false, 925.5, 13.89],
      ["6.15", false, 942.3, 13.3],
    ];
    for (const [t, it, x, size] of parts) {
      ctx.font = `${it ? "italic " : ""}${size}px ${FONT}`;
      ctx.fillText(t, x, 76);
    }
    ctx.restore();
  },
};

export default function App() {
  const ref = useRef<HTMLCanvasElement>(null);
  useEffect(() => {
    document.body.style.margin = "0";
    const points: { x: number; y: number }[] = [];
    rows.forEach((row, i) => row.forEach((x) => points.push({ x, y: levels[i] })));
    const chart = new Chart(ref.current as HTMLCanvasElement, {
      type: "scatter",
      data: {
        datasets: [
          {
            label: "Samples",
            data: points,
            backgroundColor: "#000",
            borderColor: "#000",
            borderWidth: 0,
            pointRadius: 2.85,
            pointHoverRadius: 2.85,
          },
        ],
      },
      options: {
        animation: false,
        responsive: false,
        devicePixelRatio: 1,
        layout: { padding: { top: 35, right: 15, bottom: 0, left: 0 } },
        plugins: {
          legend: { display: false },
          tooltip: { enabled: false },
          title: { display: false },
        },
        scales: {
          x: {
            type: "linear",
            min: -491,
            max: 10477,
            afterBuildTicks: (s: any) => {
              s.ticks = xTicks.map((value) => ({ value }));
            },
            afterFit: (s: any) => {
              s.height = 58;
            },
            grid: { color: "#b0b0b0", lineWidth: 1.1, tickColor: "#000", tickLength: 5, tickWidth: 1.1 },
            border: { display: false },
            ticks: {
              color: "#000",
              maxRotation: 0,
              autoSkip: false,
              padding: 3,
              font: { family: FONT, size: 13.89 },
              callback: (v: any) => String(v),
            },
            title: {
              display: true,
              text: xLabel,
              color: "#000",
              font: { family: FONT, size: 13.89 },
              padding: { top: 3, bottom: 14.5 },
            },
          },
          y: {
            type: "linear",
            min: 6227.481,
            max: 6283.608,
            afterBuildTicks: (s: any) => {
              s.ticks = yTicks.map((value) => ({ value }));
            },
            afterFit: (s: any) => {
              s.width = 81;
            },
            grid: { color: "#b0b0b0", lineWidth: 1.1, tickColor: "#000", tickLength: 5, tickWidth: 1.1 },
            border: { display: false },
            ticks: {
              color: "#000",
              autoSkip: false,
              padding: 6,
              font: { family: FONT, size: 13.89 },
              callback: (v: any) => String(v),
            },
            title: {
              display: true,
              text: yLabel,
              color: "#000",
              font: { family: FONT, size: 13.89 },
              padding: { top: 13, bottom: 3 },
            },
          },
        },
      },
      plugins: [framePlugin],
    } as any);
    return () => chart.destroy();
  }, []);
  return <canvas ref={ref} width={1000} height={1000} style={{ display: "block" }} />;
}
